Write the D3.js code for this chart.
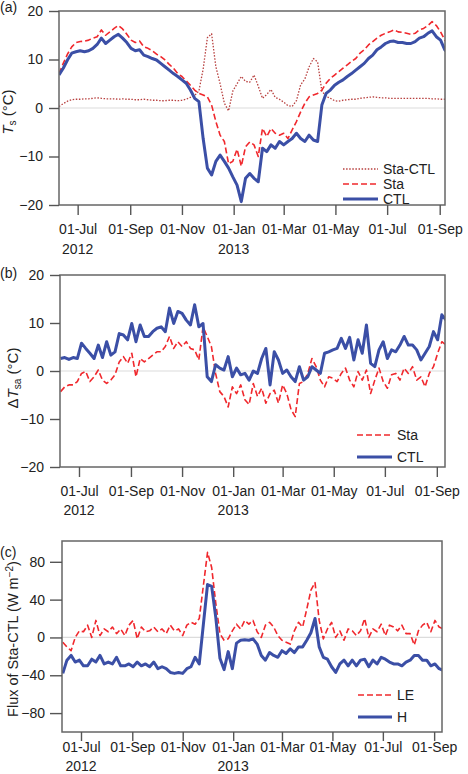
<!DOCTYPE html>
<html>
<head>
<meta charset="utf-8">
<script src="https://cdn.jsdelivr.net/npm/d3@7"></script>
<style>
  body { margin: 0; background: #fff; }
  text { font-family: "Liberation Sans", Arial, sans-serif; fill: #222; }
</style>
</head>
<body>
<script>
// daily series sampled every 5 days, starting 9 Jun 2012
var startDate = new Date(2012, 5, 9);
var stepDays = 5;

// (a) soil temperature Ts (°C)
var tsCtl = [6.8, 8.2, 9.9, 11.3, 11.6, 11.8, 11.6, 11.8, 12.3, 13.1, 14.4, 13.3, 14.0, 14.7, 15.2, 14.4,
  13.5, 12.3, 11.8, 12.0, 10.9, 10.6, 10.2, 9.9, 9.2, 8.5, 7.8, 7.1, 6.5, 5.8, 5.1, 3.7, 2.0, 1.3,
  -6.3, -12.4, -13.8, -11, -9.7, -11, -12.4, -14.2, -15.9, -19.3, -14.5, -13.5, -14.5, -15.2, -8.3,
  -9.0, -7.6, -8.3, -6.9, -7.6, -6.9, -6.3, -5.2, -6.3, -6.9, -5.6, -6.6, -6.9, 0.6, 3.0, 3.7, 4.7,
  5.3, 5.8, 6.5, 7.1, 7.8, 8.5, 9.2, 10.2, 10.9, 12.0, 12.6, 13.3, 13.7, 13.8, 13.5, 13.5, 13.3,
  13.3, 13.7, 14.4, 14.7, 15.4, 15.9, 14.7, 14.0, 12.0, 11.0];
var tsSta = [7.1, 9.2, 11.1, 12.6, 13.5, 13.7, 13.8, 14.0, 14.4, 14.7, 16.1, 15.0, 15.7, 16.4, 17.0, 16.3,
  15.2, 14.0, 13.5, 13.8, 12.6, 12.3, 11.8, 11.1, 10.6, 9.9, 9.0, 8.2, 7.1, 6.5, 5.6, 4.7, 3.7, 3.0,
  2.7, 2.3, 0.6, -2.8, -5.6, -6.9, -11.5, -11.0, -8.5, -12.0, -8.0, -7.0, -7.6, -10.0, -4.2, -5.9,
  -4.2, -5.2, -5.6, -5.2, -6.3, -4.5, -2.8, -0.8, 1.0, 2.3, 2.7, 3.0, 3.7, 5.1, 6.1, 6.8, 7.5, 8.2,
  8.9, 9.6, 10.2, 11.3, 12.0, 13.0, 13.7, 14.4, 15.0, 15.4, 15.7, 16.1, 15.7, 15.6, 15.4, 15.2,
  15.4, 16.1, 16.4, 17.0, 17.8, 17.0, 15.7, 14.0, 13.0];
var tsDiff = [0.3, 0.9, 1.4, 1.7, 1.8, 1.8, 1.9, 1.9, 2.0, 2.1, 2.0, 1.9, 1.9, 1.9, 1.8, 1.9, 1.8, 1.8,
  1.7, 1.7, 1.8, 1.7, 1.6, 1.6, 1.5, 1.5, 1.6, 1.6, 1.5, 1.6, 1.8, 2.2, 2.6, 3.5, 8.0, 14.5, 15.3,
  8.5, 5.0, 1.0, -0.6, 3.5, 5.0, 6.5, 5.5, 5.3, 6.8, 4.5, 2.0, 2.8, 3.8, 2.2, 1.8, 1.2, 0.5, 0.3,
  1.5, 4.8, 6.0, 8.5, 10.2, 9.5, 3.5, 2.4, 2.0, 1.5, 1.4, 1.6, 1.7, 1.8, 1.8, 2.0, 2.1, 2.2, 2.3,
  2.2, 2.1, 2.1, 2.0, 2.0, 2.0, 2.0, 2.0, 2.0, 2.0, 2.0, 2.0, 2.0, 1.9, 1.9, 1.8, 1.8, 1.8];

// (b) soil-air temperature difference ΔTsa (°C)
var dtCtl = [2.6, 2.8, 2.4, 2.8, 2.6, 5.8, 4.7, 3.7, 2.6, 5.4, 2.8, 6.1, 3.3, 4.0, 7.8, 7.5, 6.5, 9.9,
  6.1, 9.6, 7.2, 7.2, 8.2, 8.9, 9.2, 8.2, 13.1, 9.9, 12.4, 12.0, 10.6, 9.6, 13.8, 9.2, 9.9, -1.2,
  -2.2, 1.3, 0.6, 0.2, 3.0, -1.2, 0.6, -0.8, -0.5, -1.9, 0.0, -0.5, 2.6, 4.7, -2.9, 4.0, 2.3, -0.5,
  0.2, -1.2, -2.2, 0.9, -1.9, -1.2, 0.9, 0.2, -0.5, 3.7, 4.0, 4.4, 4.7, 6.8, 4.7, 7.0, 2.3, 6.5,
  3.7, 9.6, 1.6, 0.9, 4.4, 6.1, 2.6, 4.4, 4.0, 5.4, 7.2, 5.4, 5.4, 4.4, 2.3, 3.7, 5.1, 8.2, 6.5,
  11.7, 10.6];
var dtSta = [-4.3, -3.3, -2.9, -2.9, -2.2, -0.5, -0.1, -2.2, -1.2, 0.2, -1.9, -2.6, -1.9, -0.8, 1.9,
  3.0, 1.6, 3.7, -1.2, 2.6, 1.9, 2.6, 3.3, 4.0, 4.0, 5.1, 7.2, 4.7, 6.1, 5.1, 6.1, 4.7, 4.4, 2.3,
  9.2, 7.2, 5.1, -0.5, -4.3, -5.3, -7.5, -3.3, -4.7, -2.9, -6.0, -7.0, -2.6, -5.3, -3.6, -6.7,
  -4.7, -4.0, -6.7, -2.9, -4.7, -8.0, -9.5, -2.6, -2.2, -0.5, 2.6, 0.9, -1.9, -3.3, -1.2, -1.5,
  -2.2, -0.5, 0.6, -1.9, -3.3, -0.1, -1.9, 0.2, -4.7, -1.9, 0.6, -2.2, -3.6, -0.8, -0.5, -1.9, 0.6,
  -0.5, 0.9, -1.9, -1.2, -3.3, -0.5, 0.9, 3.7, 6.1, 5.4];

// (c) flux difference Sta-CTL (W m-2)
var fluxH = [-38, -24, -19, -26, -24, -30, -30, -23, -26, -19, -28, -26, -28, -21, -30, -30, -28, -31,
  -26, -30, -28, -31, -26, -33, -31, -33, -37, -38, -37, -38, -33, -31, -21, -28, 14, 56, 54, 21,
  -22, -34, -15, -33, -6, -3, -2.5, -3, -1.5, -7, -19, -24, -16, -19, -21, -14, -17, -12, -16, -10,
  -10, -3, 5, 20, -10, -21, -23, -31, -37, -28, -24, -30, -24, -30, -24, -23, -31, -24, -28, -21,
  -23, -26, -28, -28, -30, -26, -24, -19, -19, -24, -24, -30, -28, -33, -35];
var fluxLe = [-5, -10, -14, 0, 7, 6, 13, 0, 18, 2, 9, 6, 11, 4, 9, 2, 13, 18, -1.5, 11, 6, 7, 11, 6, 9,
  4, 13, 7, 9, 2, 13, 16, 14, 20, 55, 90, 74, 36, 4, -3, -1.5, 7, 14, 9, 18, 14, 18, 6, 0, 13, 16,
  11, 2, -3, -5, -7, 7, 16, 11, 30, 50, 58, 18, -1.5, 9, 16, 0, 7, -3, 9, 7, 2, 7, 20, 0, 9, 6, 14,
  2, 13, 11, 7, 13, 4, 4, -8, 7, 13, 16, 6, 18, 11, 9];

var tickDates = ["2012-07-01", "2012-09-01", "2012-11-01", "2013-01-01", "2013-03-01",
  "2013-05-01", "2013-07-01", "2013-09-01"];
var yearLabels = [["2012", "2012-07-01"], ["2013", "2013-01-01"]];

var parseDay = d3.timeParse("%Y-%m-%d");
var dates = tsCtl.map(function(d, i) { return d3.timeDay.offset(startDate, i * stepDays); });
var endDate = d3.timeDay.offset(startDate, 455);

var blue = "#3b4fa6", red = "#f0282d", brown = "#b8403f";
var styles = {
  solid: { color: blue, width: 3, dash: null },
  dash: { color: red, width: 1.6, dash: "6,3" },
  dot: { color: brown, width: 1.3, dash: "1.5,1.6" }
};

var svg = d3.select("body").append("svg")
  .attr("width", 468)
  .attr("height", 774);

var panels = [
  { tag: "(a)", tagY: 12, box: [59, 445, 11, 205], xr: [59, 444.8], yDomain: [-20, 20],
    yTicks: [-20, -10, 0, 10, 20], ytick: 10, ypad: 6, xtick: 10, xpad: 9, yearY: 254,
    series: [["Sta-CTL", tsDiff, "dot"], ["Sta", tsSta, "dash"], ["CTL", tsCtl, "solid"]],
    legend: { x: 343, len: 35, tx: 383, ys: [169, 184, 199] },
    label: { x: 13, y: 112, size: 15, parts: [["T", "italic", 0], ["s", null, -1], [" (°C)", null, 0]] } },
  { tag: "(b)", tagY: 278, box: [60, 445, 275, 467], xr: [60.56, 441.85], yDomain: [-20, 20],
    yTicks: [-20, -10, 0, 10, 20], ytick: 10, ypad: 6, xtick: 10, xpad: 9, yearY: 515,
    series: [["Sta", dtSta, "dash"], ["CTL", dtCtl, "solid"]],
    legend: { x: 357, len: 35, tx: 397, ys: [435, 457] },
    label: { x: 18, y: 378, size: 15, parts: [["Δ", null, 0], ["T", "italic", 0], ["sa", null, -1], [" (°C)", null, 0]] } },
  { tag: "(c)", tagY: 557, box: [62, 442, 541, 732], xr: [62.8, 439.1], yDomain: [-100, 102],
    yTicks: [-80, -40, 0, 40, 80], ytick: 12, ypad: 5, xtick: 9, xpad: 1, yearY: 771,
    series: [["LE", fluxLe, "dash"], ["H", fluxH, "solid"]],
    legend: { x: 358, len: 34, tx: 397, ys: [695, 717] },
    label: { x: 18, y: 639, size: 14.5, parts: [["Flux of Sta-CTL (W m", null, 0], ["−2", null, 1], [")", null, 0]] } }
];

panels.forEach(function(p, pi) {
  var x0 = p.box[0], x1 = p.box[1], y0 = p.box[2], y1 = p.box[3];
  var x = d3.scaleTime().domain([startDate, endDate]).range(p.xr);
  var y = d3.scaleLinear().domain(p.yDomain).range([y1, y0]);
  var g = svg.append("g").attr("class", "panel");

  svg.append("clipPath").attr("id", "clip" + pi)
    .append("rect").attr("x", x0).attr("y", y0).attr("width", x1 - x0).attr("height", y1 - y0);

  // zero line
  g.append("line")
    .attr("x1", x0).attr("x2", x1)
    .attr("y1", y(0)).attr("y2", y(0))
    .attr("stroke", "#dcdcdc").attr("stroke-width", 1.2);

  // series
  var line = d3.line()
    .x(function(d, i) { return x(dates[i]); })
    .y(function(d) { return y(d); });
  p.series.forEach(function(s) {
    var st = styles[s[2]];
    g.append("path")
      .datum(s[1])
      .attr("clip-path", "url(#clip" + pi + ")")
      .attr("d", line)
      .attr("fill", "none")
      .attr("stroke", st.color)
      .attr("stroke-width", st.width)
      .attr("stroke-dasharray", st.dash)
      .attr("stroke-linejoin", "round");
  });

  // frame
  g.append("rect")
    .attr("x", x0).attr("y", y0)
    .attr("width", x1 - x0).attr("height", y1 - y0)
    .attr("fill", "none").attr("stroke", "#666").attr("stroke-width", 1.5);

  // axes
  var yAxis = g.append("g")
    .attr("transform", "translate(" + x0 + ",0)")
    .call(d3.axisLeft(y).tickValues(p.yTicks).tickSize(p.ytick).tickPadding(p.ypad));
  var xAxis = g.append("g")
    .attr("transform", "translate(0," + y1 + ")")
    .call(d3.axisBottom(x).tickValues(tickDates.map(parseDay))
      .tickFormat(d3.timeFormat("%d-%b")).tickSize(p.xtick).tickPadding(p.xpad));
  [yAxis, xAxis].forEach(function(a) {
    a.select(".domain").remove();
    a.selectAll(".tick line").attr("stroke", "#555").attr("stroke-width", 1.4);
    a.selectAll(".tick text").style("font-size", "14px").attr("fill", "#222");
  });

  yearLabels.forEach(function(yl) {
    g.append("text")
      .attr("x", x(parseDay(yl[1])))
      .attr("y", p.yearY)
      .attr("text-anchor", "middle")
      .style("font-size", "14px")
      .text(yl[0]);
  });

  // panel tag
  g.append("text").attr("x", 0).attr("y", p.tagY).style("font-size", "14px").text(p.tag);

  // y label
  var lab = g.append("text")
    .attr("transform", "translate(" + p.label.x + "," + p.label.y + ") rotate(-90)")
    .attr("text-anchor", "middle")
    .style("font-size", p.label.size + "px");
  p.label.parts.forEach(function(pt) {
    var t = lab.append("tspan").text(pt[0]);
    if (pt[1]) t.style("font-style", pt[1]);
    if (pt[2] !== 0) {
      t.style("font-size", "10px").attr("baseline-shift", pt[2] < 0 ? "-25%" : "55%");
    }
  });

  // legend
  p.series.forEach(function(s, i) {
    var st = styles[s[2]];
    var ly = p.legend.ys[i];
    g.append("line")
      .attr("x1", p.legend.x).attr("x2", p.legend.x + p.legend.len)
      .attr("y1", ly).attr("y2", ly)
      .attr("stroke", st.color)
      .attr("stroke-width", st.width)
      .attr("stroke-dasharray", st.dash);
    g.append("text")
      .attr("x", p.legend.tx)
      .attr("y", ly + 5)
      .style("font-size", "14px")
      .text(s[0]);
  });
});
</script>
</body>
</html>
